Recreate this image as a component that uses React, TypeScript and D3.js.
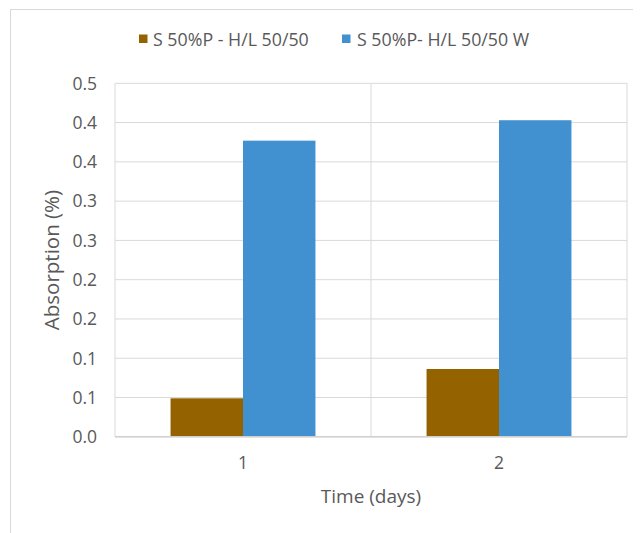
import React from "react";
import * as d3 from "d3";

const categories = ["1", "2"];
const seriesNames = ["S 50%P - H/L 50/50", "S 50%P- H/L 50/50 W"];
const seriesA = [0.049, 0.0863];
const seriesB = [0.377, 0.403];
const tickValues = [0, 0.05, 0.1, 0.15, 0.2, 0.25, 0.3, 0.35, 0.4, 0.45];
const tickLabels = ["0.0", "0.1", "0.1", "0.2", "0.2", "0.3", "0.3", "0.4", "0.4", "0.5"];
const colors = ["#946300", "#4191d0"];
const xTitle = "Time (days)";
const yTitle = "Absorption (%)";

const W = 633;
const H = 525;
// page offset 8px (body margin)
const left = 107;
const right = 619;
const top = 75.3;
const bottom = 428.8;
const font = "'Open Sans', sans-serif";

export default function App() {
  const y = d3.scaleLinear().domain([0, 0.45]).range([bottom, top]);
  const x0 = d3.scaleBand<string>().domain(categories).range([left, right]).paddingInner(0.434).paddingOuter(0.217);
  const x1 = d3.scaleBand<number>().domain([0, 1]).range([0, x0.bandwidth()]);
  const series = [seriesA, seriesB];
  const step = x0.step();
  const boundaries = [left, left + step, right];
  return (
    <svg width={W} height={H} style={{ display: "block" }}>
      <rect x={2.5} y={1.5} width={W + 10} height={H + 10} fill="#fff" stroke="#d9d9d9" />
      {tickValues.map((t, i) => (
        <line key={"g" + i} x1={left} x2={right} y1={y(t)} y2={y(t)} stroke="#d9d9d9" strokeWidth={1} />
      ))}
      {boundaries.map((b, i) => (
        <line key={"v" + i} x1={b} x2={b} y1={top} y2={bottom} stroke="#d9d9d9" strokeWidth={1} />
      ))}
      {series.map((s, si) =>
        s.map((v, ci) => (
          <rect
            key={si + "-" + ci}
            x={(x0(categories[ci]) as number) + (x1(si) as number)}
            y={y(v)}
            width={x1.bandwidth()}
            height={bottom - y(v)}
            fill={colors[si]}
          />
        ))
      )}
      <line x1={left} x2={right} y1={bottom} y2={bottom} stroke="#d0d0d0" strokeWidth={1.5} />
      {tickValues.map((t, i) => (
        <text key={"t" + i} x={89} y={y(t)} dy="0.36em" textAnchor="end" fontFamily={font} fontSize={17.5} fill="#595959">
          {tickLabels[i]}
        </text>
      ))}
      {categories.map((c) => (
        <text key={"c" + c} x={(x0(c) as number) + x0.bandwidth() / 2} y={455} dy="0.36em" textAnchor="middle" fontFamily={font} fontSize={17.5} fill="#595959">
          {c}
        </text>
      ))}
      <text x={(left + right) / 2} y={494.5} textAnchor="middle" fontFamily={font} fontSize={19} fill="#595959">
        {xTitle}
      </text>
      <text transform={`translate(44,${(top + bottom) / 2}) rotate(-90)`} dy="0.36em" textAnchor="middle" fontFamily={font} fontSize={20.5} fill="#595959">
        {yTitle}
      </text>
      <g>
        <rect x={131} y={26.5} width={8.5} height={8.5} fill={colors[0]} />
        <text x={145} y={38} fontFamily={font} fontSize={17.8} fill="#595959">{seriesNames[0]}</text>
        <rect x={334} y={26.5} width={8.5} height={8.5} fill={colors[1]} />
        <text x={349} y={38} fontFamily={font} fontSize={17.8} fill="#595959">{seriesNames[1]}</text>
      </g>
    </svg>
  );
}
